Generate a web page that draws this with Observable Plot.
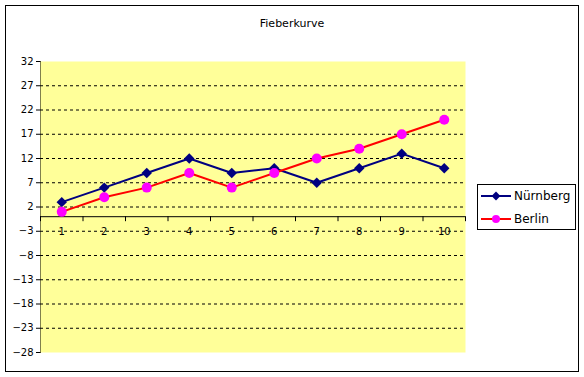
<!DOCTYPE html>
<html>
<head>
<meta charset="utf-8">
<script src="https://cdn.jsdelivr.net/npm/d3@7"></script>
<script src="https://cdn.jsdelivr.net/npm/@observablehq/plot@0.6"></script>
<style>
  html, body { margin: 0; padding: 0; background: #ffffff; }
  #chart svg { display: block; }
</style>
</head>
<body>
<div id="chart"></div>
<script>
const title = "Fieberkurve";
const categories = [1, 2, 3, 4, 5, 6, 7, 8, 9, 10];
const nuernberg = [3, 6, 9, 12, 9, 10, 7, 10, 13, 10];
const berlin = [1, 4, 6, 9, 6, 9, 12, 14, 17, 20];
const seriesNames = ["Nürnberg", "Berlin"];
const yTicks = [-28, -23, -18, -13, -8, -3, 2, 7, 12, 17, 22, 27, 32];

const colors = { line1: "#000080", dot1: "#000080", line2: "#FF0000", dot2: "#FF00FF" };

const rows1 = categories.map((c, i) => ({ cat: c, v: nuernberg[i] }));
const rows2 = categories.map((c, i) => ({ cat: c, v: berlin[i] }));
const gridVals = yTicks.slice(1, -1);
const bounds = [categories[0] - 0.5, ...categories.map(c => c + 0.5)];

const W = 584, H = 377;
const chart = Plot.plot({
  width: W,
  height: H,
  marginLeft: 40,
  marginRight: 119,
  marginTop: 61,
  marginBottom: 25,
  style: { fontFamily: "DejaVu Sans", fontSize: "10px", background: "#ffffff", color: "#000" },
  x: { domain: [categories[0] - 0.5, categories[categories.length - 1] + 0.5], axis: null },
  y: { domain: [yTicks[0], yTicks[yTicks.length - 1]], ticks: yTicks, tickSize: 4, tickPadding: 3, line: true, label: null },
  marks: [
    Plot.frame({ fill: "#FFFF99", stroke: "none" }),
    Plot.ruleY(gridVals, { stroke: "#000", strokeDasharray: "3,3", strokeWidth: 1 }),
    Plot.ruleY([0], { stroke: "#000", strokeWidth: 1 }),
    Plot.ruleX(bounds, { y1: 0, y2: 0, insetBottom: -5, stroke: "#000" }),
    Plot.text(categories, { x: d => d, y: 0, dy: 15, text: d => String(d), fill: "#000" }),
    Plot.line(rows1, { x: "cat", y: "v", stroke: colors.line1, strokeWidth: 2 }),
    Plot.line(rows2, { x: "cat", y: "v", stroke: colors.line2, strokeWidth: 2 }),
    Plot.dot(rows1, { x: "cat", y: "v", symbol: "diamond2", r: 4.7, fill: colors.dot1, stroke: "none" }),
    Plot.dot(rows2, { x: "cat", y: "v", symbol: "circle", r: 5, fill: colors.dot2, stroke: "none" })
  ]
});
document.getElementById("chart").appendChild(chart);

const svg = d3.select(chart);
// outer border
svg.append("rect").attr("x", 5.5).attr("y", 5.5).attr("width", 573).attr("height", 366)
  .attr("fill", "none").attr("stroke", "#000").attr("stroke-width", 1);
// title
svg.append("text").attr("x", 292).attr("y", 27).attr("text-anchor", "middle")
  .attr("font-family", "DejaVu Sans").attr("font-size", 11).attr("fill", "#000").text(title);
// legend
const lg = svg.append("g").attr("font-family", "DejaVu Sans").attr("font-size", 12).attr("text-anchor", "start");
lg.append("rect").attr("x", 477.5).attr("y", 184.5).attr("width", 98).attr("height", 45)
  .attr("fill", "#fff").attr("stroke", "#000");
const legendItems = [
  { name: seriesNames[0], line: colors.line1, dot: colors.dot1, sym: d3.symbolDiamond2, size: Math.PI * 4 * 4, y: 196 },
  { name: seriesNames[1], line: colors.line2, dot: colors.dot2, sym: d3.symbolCircle, size: Math.PI * 4 * 4, y: 219 }
];
for (const it of legendItems) {
  lg.append("line").attr("x1", 481).attr("x2", 511).attr("y1", it.y).attr("y2", it.y)
    .attr("stroke", it.line).attr("stroke-width", 2);
  lg.append("path").attr("d", d3.symbol(it.sym, it.size)()).attr("transform", `translate(496,${it.y})`)
    .attr("fill", it.dot);
  lg.append("text").attr("x", 514).attr("y", it.y).attr("dy", "0.36em").attr("text-anchor", "start")
    .attr("fill", "#000").text(it.name);
}
</script>
</body>
</html>
